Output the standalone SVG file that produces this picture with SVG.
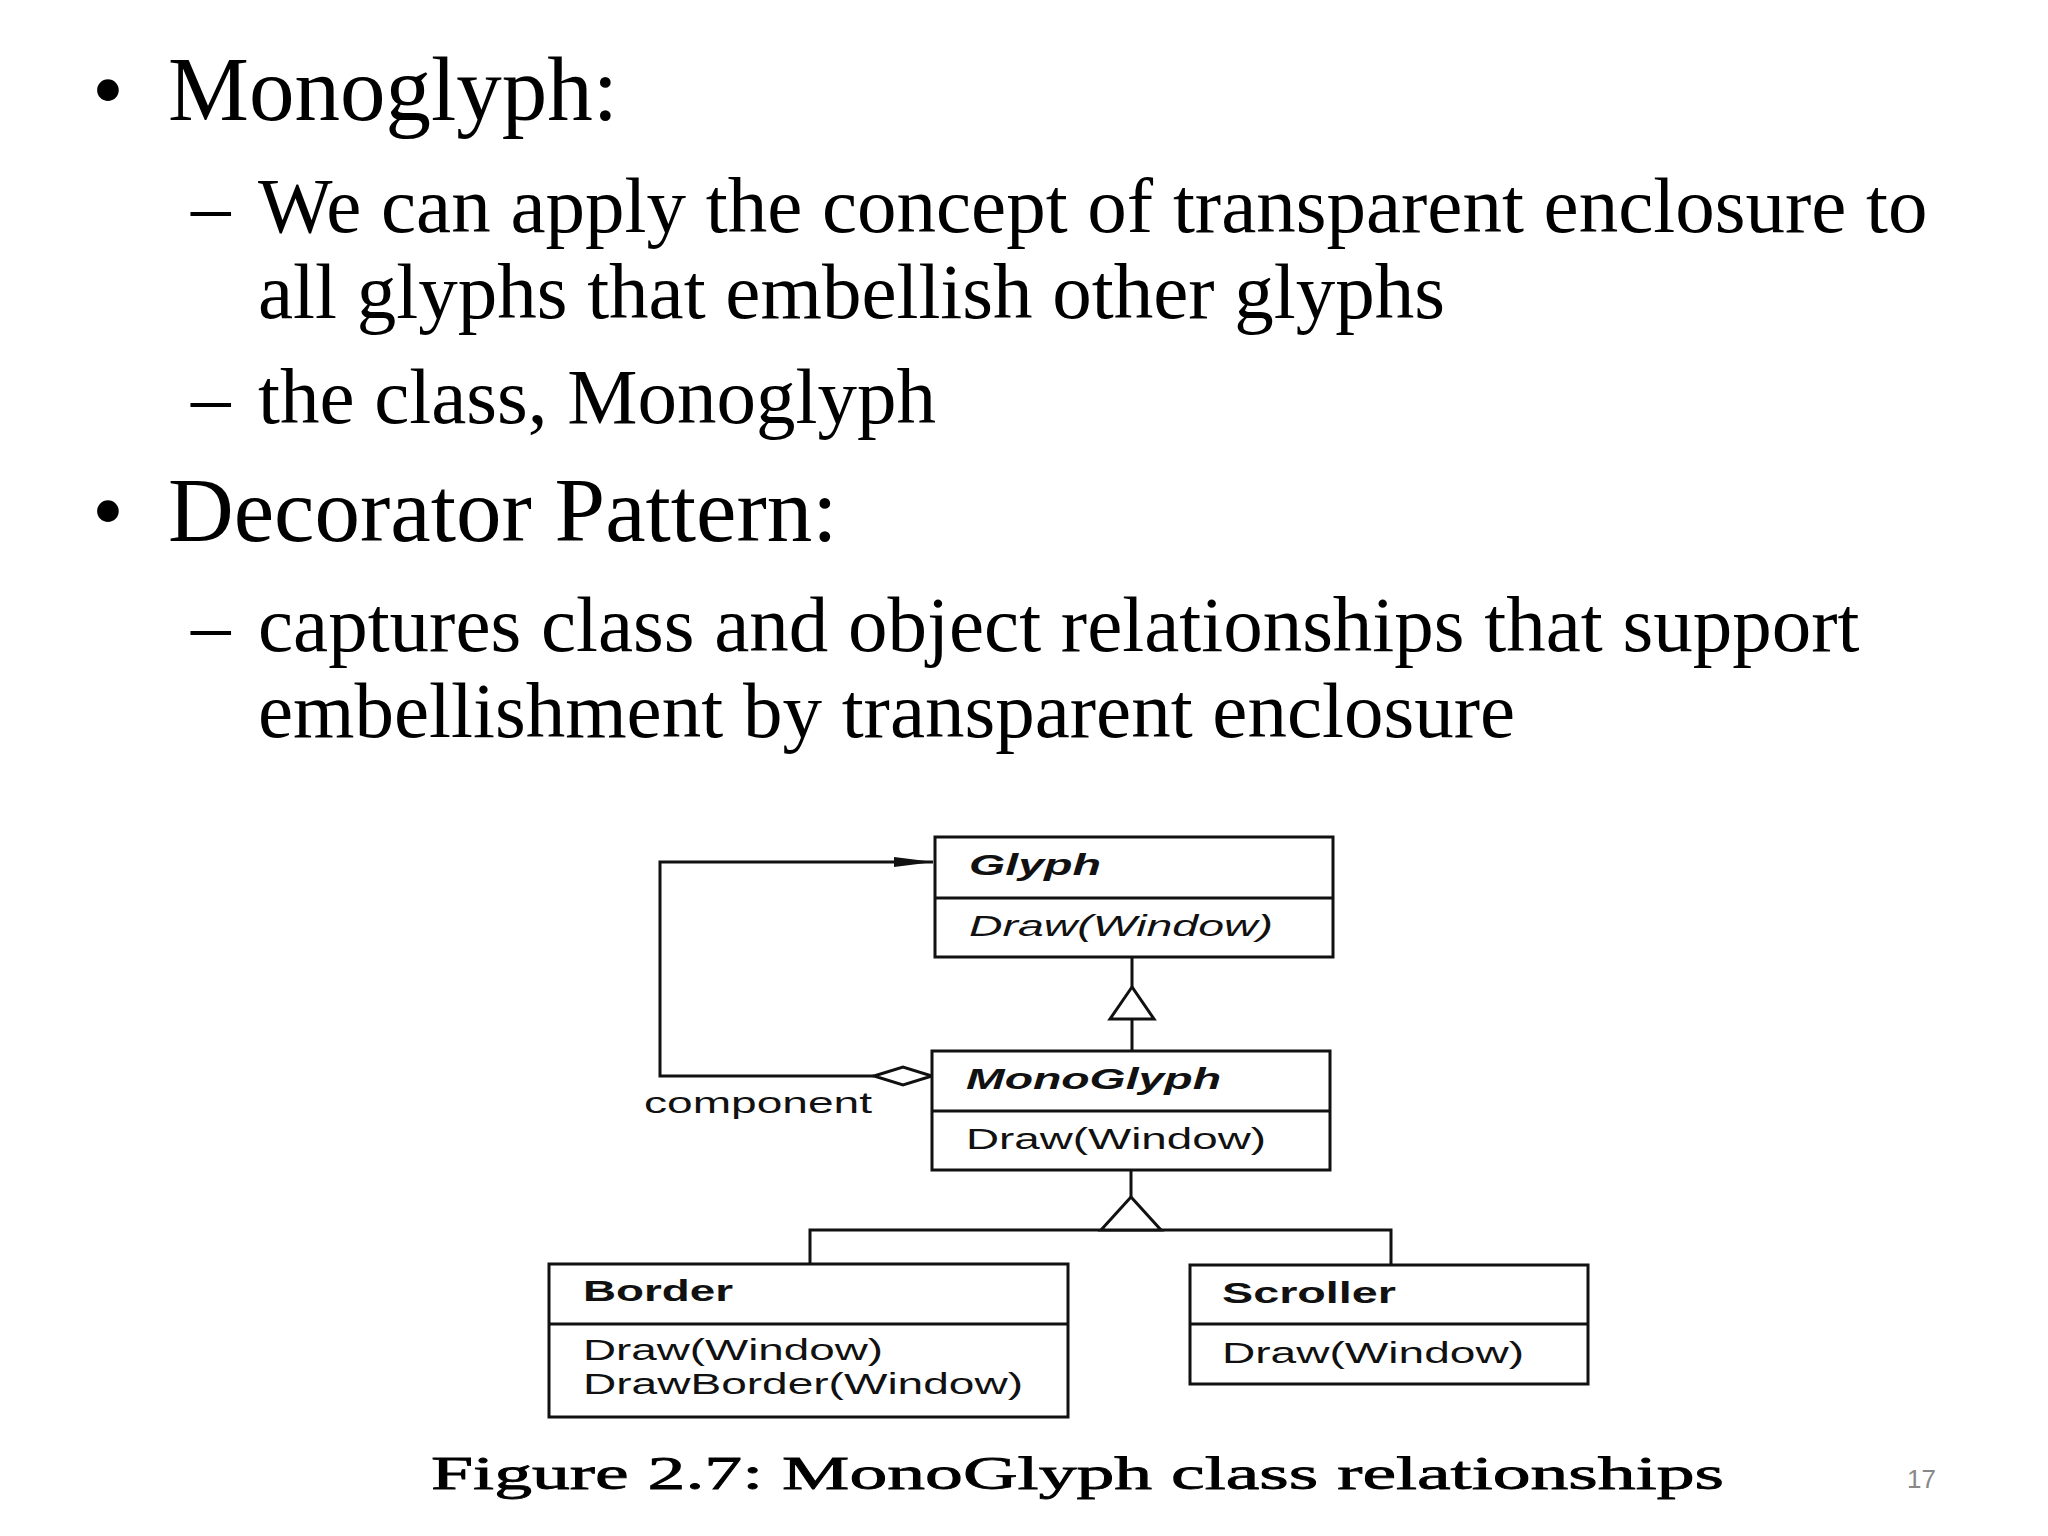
<svg xmlns="http://www.w3.org/2000/svg" width="2048" height="1536" viewBox="0 0 2048 1536">
<defs>
<style>
.t{font-family:"Liberation Serif","Times New Roman",serif;fill:#000}
.b{font-size:91px}.s{font-size:79px}
.d{font-family:"Liberation Sans",Arial,sans-serif;fill:#111;font-size:29px}
.bx{fill:#fff;stroke:#111;stroke-width:3}
.ln{fill:none;stroke:#111;stroke-width:3}
</style>
<marker id="arr" markerWidth="40" markerHeight="14" refX="39" refY="7" orient="auto" markerUnits="userSpaceOnUse"><path d="M0,2 L40,7 L0,12 Z" fill="#111"/></marker>
</defs>
<rect width="2048" height="1536" fill="#fff"/>
<g id="text">
<text class="t b" x="92" y="120">•</text><text class="t b" x="168" y="120">Monoglyph:</text>
<text class="t s" x="191" y="232">–</text><text class="t s" x="258" y="232">We can apply the concept of transparent enclosure to</text>
<text class="t s" x="258" y="318">all glyphs that embellish other glyphs</text>
<text class="t s" x="191" y="423">–</text><text class="t s" x="258" y="423">the class, Monoglyph</text>
<text class="t b" x="92" y="541">•</text><text class="t b" x="168" y="541">Decorator Pattern:</text>
<text class="t s" x="191" y="651">–</text><text class="t s" x="258" y="651">captures class and object relationships that support</text>
<text class="t s" x="258" y="737">embellishment by transparent enclosure</text>
<text class="t" x="431" y="1489" font-size="47" textLength="1293" lengthAdjust="spacingAndGlyphs" stroke="#000" stroke-width="0.8">Figure 2.7: MonoGlyph class relationships</text>
<text x="1907" y="1488" font-family="Liberation Sans,Arial,sans-serif" font-size="26" fill="#888">17</text>
</g>
<g transform="translate(-8,-7)">
<g id="connectors">
<path class="ln" d="M1140,964 V1058"/>
<path d="M1140,994 L1118,1026 L1162,1026 Z" fill="#fff" stroke="#111" stroke-width="3"/>
<path class="ln" d="M1139,1177 V1204 M818,1271 V1237 H1399 V1272"/>
<path d="M1139,1204 L1109,1237 L1169,1237 Z" fill="#fff" stroke="#111" stroke-width="3"/>
<path class="ln" d="M882,1083 H668 V869 H941" marker-end="url(#arr)"/>
<path d="M882,1083 L911,1074 L940,1083 L911,1092 Z" fill="#fff" stroke="#111" stroke-width="3"/>
<text class="d" x="652" y="1120" textLength="228" lengthAdjust="spacingAndGlyphs">component</text>
</g>
<g id="glyph">
<rect class="bx" x="943" y="844" width="398" height="120"/><path class="ln" d="M943,905 H1341"/>
<text class="d" x="977" y="882" font-weight="bold" font-style="italic" textLength="132" lengthAdjust="spacingAndGlyphs">Glyph</text>
<text class="d" x="977" y="943" font-style="italic" textLength="304" lengthAdjust="spacingAndGlyphs">Draw(Window)</text>
</g>
<g id="monoglyph">
<rect class="bx" x="940" y="1058" width="398" height="119"/><path class="ln" d="M940,1118 H1338"/>
<text class="d" x="974" y="1096" font-weight="bold" font-style="italic" textLength="255" lengthAdjust="spacingAndGlyphs">MonoGlyph</text>
<text class="d" x="974" y="1156" textLength="300" lengthAdjust="spacingAndGlyphs">Draw(Window)</text>
</g>
<g id="border">
<rect class="bx" x="557" y="1271" width="519" height="153"/><path class="ln" d="M557,1331 H1076"/>
<text class="d" x="591" y="1308" font-weight="bold" textLength="150" lengthAdjust="spacingAndGlyphs">Border</text>
<text class="d" x="591" y="1367" textLength="300" lengthAdjust="spacingAndGlyphs">Draw(Window)</text>
<text class="d" x="591" y="1401" textLength="440" lengthAdjust="spacingAndGlyphs">DrawBorder(Window)</text>
</g>
<g id="scroller">
<rect class="bx" x="1198" y="1272" width="398" height="119"/><path class="ln" d="M1198,1331 H1596"/>
<text class="d" x="1230" y="1310" font-weight="bold" textLength="174" lengthAdjust="spacingAndGlyphs">Scroller</text>
<text class="d" x="1230" y="1370" textLength="302" lengthAdjust="spacingAndGlyphs">Draw(Window)</text>
</g>
</g>
</svg>
